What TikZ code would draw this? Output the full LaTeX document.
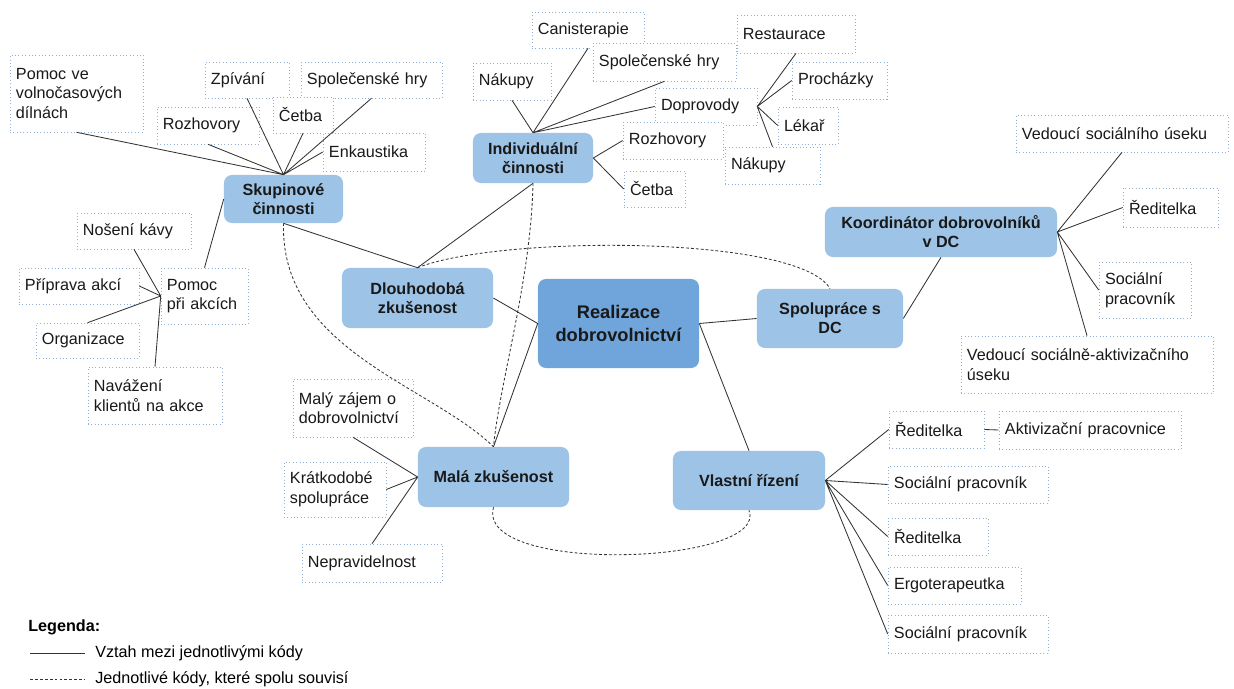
\documentclass[tikz,border=0pt]{standalone}
\usepackage{fontspec}
\setmainfont{Liberation Sans}
\definecolor{topicBlue}{HTML}{9DC3E6}
\definecolor{coreBlue}{HTML}{6FA5DA}
\definecolor{codeEdge}{HTML}{8FB0D4}
\definecolor{lineGray}{HTML}{333333}
\tikzset{
  topicNode/.style={%
    rounded corners=0.2cm, fill=topicBlue, align=center, text=black!90,
    font=\fontsize{11.5}{13.5}\selectfont\bfseries, inner sep=2pt,
  },
  codeNode/.style={%
    draw=codeEdge, dotted, fill=white, align=left, text=black!90,
    font=\fontsize{11.5}{14}\selectfont, inner xsep=0.15cm, inner ysep=2pt,
  },
  relLine/.style={draw=lineGray, line width=0.6pt},
  linkLine/.style={draw=lineGray, line width=0.6pt, dash pattern=on 2pt off 1.5pt},
}

\begin{document}
\begin{tikzpicture}[x=0.025cm, y=-0.025cm]
\useasboundingbox (0,0) rectangle (1234,689);

% hlavni kody
\node[topicNode, fill=coreBlue, minimum width=4.025cm, minimum height=2.225cm,
      font=\fontsize{13}{16}\selectfont\bfseries] (realiz) at (618.5,323.5) {Realizace\\dobrovolnictví};
\node[topicNode, minimum width=3.775cm, minimum height=1.5cm] (dlouho) at (417.5,298) {Dlouhodobá\\zkušenost};
\node[topicNode, minimum width=3.775cm, minimum height=1.5cm] (mala) at (493.5,477) {Malá zkušenost};
\node[topicNode, minimum width=3.8cm, minimum height=1.475cm] (vlastni) at (749,480.5) {Vlastní řízení};
\node[topicNode, minimum width=3.65cm, minimum height=1.475cm] (spoluprace) at (830,318.5) {Spolupráce s\\DC};
\node[topicNode, minimum width=5.8cm, minimum height=1.25cm] (koord) at (941,232) {Koordinátor dobrovolníků\\v DC};
\node[topicNode, minimum width=2.975cm, minimum height=1.2cm] (skup) at (283.5,199) {Skupinové\\činnosti};
\node[topicNode, minimum width=3cm, minimum height=1.25cm] (indiv) at (533,158) {Individuální\\činnosti};

% skupinove cinnosti
\node[codeNode, text width=3.025cm, minimum height=1.925cm] (dilny) at (76.5,93.5) {Pomoc ve\\volnočasových\\dílnách};
\node[codeNode, text width=1.8cm, minimum height=0.9cm] (zpivani) at (247,80) {Zpívání};
\node[codeNode, text width=3.225cm, minimum height=0.9cm] (hrySkup) at (371.5,80) {Společenské hry};
\node[codeNode, text width=2.25cm, minimum height=0.925cm] (rozhSkup) at (208,125.5) {Rozhovory};
\node[codeNode, text width=1.2cm, minimum height=0.9cm] (cetbaSkup) at (303,115) {Četba};
\node[codeNode, text width=2.25cm, minimum height=0.95cm] (enkaustika) at (374,152) {Enkaustika};
\node[codeNode, text width=1.875cm, minimum height=1.4cm] (pomocAkce) at (204.5,296) {Pomoc\\při akcích};
\node[codeNode, text width=2.55cm, minimum height=0.9cm] (kava) at (134,231) {Nošení kávy};
\node[codeNode, text width=2.7cm, minimum height=0.9cm] (priprava) at (79,286) {Příprava akcí};
\node[codeNode, text width=2.275cm, minimum height=0.875cm] (organizace) at (87.5,340.5) {Organizace};
\node[codeNode, text width=3.05cm, minimum height=1.425cm] (navazeni) at (155,395.5) {Navážení\\klientů na akce};

% mala zkusenost
\node[codeNode, text width=2.7cm, minimum height=1.45cm] (zajem) at (353,408) {Malý zájem o\\dobrovolnictví};
\node[codeNode, text width=2.25cm, minimum height=1.375cm] (kratko) at (335,489.5) {Krátkodobé\\spolupráce};
\node[codeNode, text width=3.2cm, minimum height=0.95cm] (neprav) at (372,563) {Nepravidelnost};

% individualni cinnosti
\node[codeNode, text width=2.5cm, minimum height=0.9cm] (canis) at (588,30) {Canisterapie};
\node[codeNode, text width=1.65cm, minimum height=0.925cm] (nakupyInd) at (512,81.5) {Nákupy};
\node[codeNode, text width=3.275cm, minimum height=0.95cm] (hryInd) at (664.5,62) {Společenské hry};
\node[codeNode, text width=2.25cm, minimum height=0.925cm] (doprovody) at (706,106.5) {Doprovody};
\node[codeNode, text width=2.65cm, minimum height=0.95cm] (restaurace) at (796,34) {Restaurace};
\node[codeNode, text width=2.075cm, minimum height=0.925cm] (prochazky) at (839.5,80.5) {Procházky};
\node[codeNode, text width=1.2cm, minimum height=0.925cm] (lekar) at (808,125.5) {Lékař};
\node[codeNode, text width=2.075cm, minimum height=0.925cm] (nakupyDop) at (772.5,165.5) {Nákupy};
\node[codeNode, text width=2.2cm, minimum height=0.925cm] (rozhInd) at (673,140.5) {Rozhovory};
\node[codeNode, text width=1.225cm, minimum height=0.9cm] (cetbaInd) at (654.5,189) {Četba};

% koordinator
\node[codeNode, text width=5cm, minimum height=0.925cm] (vedSoc) at (1122,133.5) {Vedoucí sociálního úseku};
\node[codeNode, text width=2.075cm, minimum height=0.975cm] (reditKoord) at (1170.5,207.5) {Ředitelka};
\node[codeNode, text width=2cm, minimum height=1.4cm] (socKoord) at (1145,290) {Sociální\\pracovník};
\node[codeNode, text width=6cm, minimum height=1.425cm] (vedAkt) at (1087,364.5) {Vedoucí sociálně-aktivizačního\\úseku};

% vlastni rizeni
\node[codeNode, text width=2.075cm, minimum height=0.925cm] (reditA) at (936.5,429.5) {Ředitelka};
\node[codeNode, text width=4.25cm, minimum height=0.95cm] (aktiv) at (1090,430) {Aktivizační pracovnice};
\node[codeNode, text width=3.7cm, minimum height=0.925cm] (socA) at (968,484.5) {Sociální pracovník};
\node[codeNode, text width=2.2cm, minimum height=0.925cm] (reditB) at (938,536.5) {Ředitelka};
\node[codeNode, text width=3.025cm, minimum height=0.925cm] (ergo) at (954.5,585.5) {Ergoterapeutka};
\node[codeNode, text width=3.7cm, minimum height=0.95cm] (socB) at (968,634) {Sociální pracovník};

% vztahy
\draw[relLine]
  (skup.north) -- (dilny.south)
  (skup.north) -- (rozhSkup.south)
  (skup.north) -- (zpivani.south)
  (skup.north) -- (cetbaSkup.south)
  (skup.north) -- (hrySkup.south)
  (skup.north) -- (enkaustika.west)
  (skup.west) -- (pomocAkce.north)
  (pomocAkce.west) -- (kava.south)
  (pomocAkce.west) -- (priprava.east)
  (pomocAkce.west) -- (organizace.north)
  (pomocAkce.west) -- (navazeni.north)
  (skup.south) -- (dlouho.north)
  (indiv.south) -- (dlouho.north)
  (indiv.north) -- (nakupyInd.south)
  (indiv.north) -- (canis.south)
  (indiv.north) -- (hryInd.south)
  (indiv.north) -- (doprovody.west)
  (indiv.east) -- (rozhInd.west)
  (indiv.east) -- (cetbaInd.west)
  (doprovody.east) -- (restaurace.south)
  (doprovody.east) -- (prochazky.west)
  (doprovody.east) -- (lekar.west)
  (doprovody.east) -- (nakupyDop.north)
  (dlouho.east) -- (realiz.west)
  (mala.north) -- (realiz.west)
  (mala.west) -- (zajem.south)
  (mala.west) -- (kratko.east)
  (mala.west) -- (neprav.north)
  (realiz.east) -- (spoluprace.west)
  (realiz.east) -- (vlastni.north)
  (spoluprace.east) -- (koord.south)
  (koord.east) -- (vedSoc.south)
  (koord.east) -- (reditKoord.west)
  (koord.east) -- (socKoord.west)
  (koord.east) -- (vedAkt.north)
  (vlastni.east) -- (reditA.west)
  (vlastni.east) -- (socA.west)
  (vlastni.east) -- (reditB.west)
  (vlastni.east) -- (ergo.west)
  (vlastni.east) -- (socB.west)
  (reditA.east) -- (aktiv.west)
  ;

% souvislosti
\draw[linkLine] (skup.south) .. controls (280,350) and (430,385) .. (mala.north);
\draw[linkLine] (indiv.south) .. controls (531,280) and (500,380) .. (mala.north);
\draw[linkLine] (dlouho.north) .. controls (500,235) and (800,235) .. (spoluprace.north);
\draw[linkLine] (mala.south) .. controls (475,575) and (770,565) .. (vlastni.south);

% legenda
\node[anchor=west, inner sep=0pt, font=\fontsize{11.5}{14}\selectfont\bfseries] (legTitle) at (28,627) {Legenda:};
\node[anchor=west, inner xsep=0.25cm, inner ysep=2pt, font=\fontsize{11.5}{14}\selectfont] (legSolid) at (85,653) {Vztah mezi jednotlivými kódy};
\node[anchor=west, inner xsep=0.25cm, inner ysep=2pt, font=\fontsize{11.5}{14}\selectfont] (legDashed) at (85,679) {Jednotlivé kódy, které spolu souvisí};
\coordinate (legA) at (30,653);
\coordinate (legB) at (30,679);
\draw[relLine] (legA) -- (legSolid.west);
\draw[linkLine] (legB) -- (legDashed.west);

\end{tikzpicture}
\end{document}
